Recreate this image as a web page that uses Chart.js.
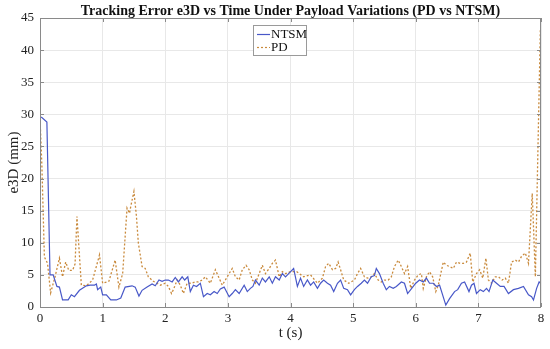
<!DOCTYPE html>
<html>
<head>
<meta charset="utf-8">
<script src="https://cdn.jsdelivr.net/npm/chart.js@4.4.0/dist/chart.umd.min.js"></script>
<style>
html,body{margin:0;padding:0;background:#fff;}
#wrap{width:550px;height:349px;position:relative;}
</style>
</head>
<body>
<div id="wrap"><canvas id="c" width="550" height="349"></canvas></div>
<script>
const titleText = 'Tracking Error e3D vs Time Under Payload Variations (PD vs NTSM)';
const xTitle = 't (s)';
const yTitle = 'e3D (mm)';
const seriesNames = ['NTSM', 'PD'];
const xTicks = [0,1,2,3,4,5,6,7,8];
const yTicks = [0,5,10,15,20,25,30,35,40,45];

const ntsmT = [0,0.03,0.11,0.16,0.21,0.27,0.31,0.36,0.45,0.50,0.55,0.63,0.74,0.80,0.87,0.90,0.92,0.97,1.00,1.06,1.13,1.22,1.29,1.36,1.47,1.52,1.58,1.63,1.71,1.79,1.84,1.90,1.95,2.00,2.05,2.11,2.16,2.21,2.27,2.31,2.36,2.40,2.45,2.50,2.56,2.61,2.67,2.72,2.78,2.83,2.88,2.94,3.02,3.07,3.12,3.18,3.26,3.31,3.36,3.40,3.44,3.50,3.55,3.60,3.66,3.71,3.76,3.82,3.87,3.92,3.99,4.05,4.11,4.16,4.21,4.27,4.32,4.37,4.43,4.48,4.53,4.59,4.64,4.69,4.75,4.80,4.85,4.91,4.96,5.02,5.07,5.13,5.18,5.23,5.29,5.34,5.37,5.42,5.48,5.53,5.58,5.64,5.69,5.77,5.82,5.87,5.92,6.00,6.06,6.12,6.17,6.22,6.28,6.33,6.38,6.48,6.54,6.62,6.67,6.73,6.78,6.85,6.89,6.93,6.97,7.03,7.08,7.13,7.17,7.23,7.29,7.35,7.41,7.48,7.56,7.64,7.72,7.80,7.85,7.88,7.93,7.97,8.00];
const ntsmE = [29.6,29.5,28.8,5.0,5.0,3.2,3.1,1.1,1.1,1.9,1.6,2.6,3.3,3.4,3.4,3.6,2.7,3.1,1.9,1.9,1.1,1.1,1.4,3.1,3.3,3.1,1.7,2.6,3.1,3.6,3.3,4.2,4.0,4.2,4.2,3.9,4.6,3.9,4.7,4.2,4.7,2.4,3.4,3.2,3.7,1.6,2.1,1.9,2.4,2.1,2.8,3.1,1.6,2.1,2.7,2.1,3.4,2.4,2.9,3.2,4.2,3.4,4.5,3.9,4.7,3.7,4.7,4.2,5.2,4.7,5.4,6.0,3.2,4.5,3.2,4.2,3.4,3.9,2.9,3.7,4.2,3.7,3.4,2.4,3.7,4.2,2.9,2.7,1.9,2.7,3.2,3.7,4.2,3.7,4.7,4.9,6.0,5.2,3.7,2.7,3.2,2.9,3.2,3.9,3.7,2.1,2.7,3.7,4.2,3.9,4.5,3.7,3.7,3.2,3.4,0.3,1.3,2.4,2.7,3.7,3.9,2.4,3.4,3.7,2.1,2.7,2.4,2.9,2.4,4.2,3.7,3.2,3.2,2.1,2.7,2.9,3.2,1.9,1.6,1.1,2.9,3.9,3.6];

const pdT = [0,0.03,0.07,0.12,0.17,0.24,0.31,0.36,0.41,0.46,0.52,0.56,0.59,0.66,0.74,0.84,0.95,1.00,1.10,1.20,1.26,1.32,1.39,1.43,1.45,1.50,1.54,1.57,1.63,1.68,1.73,1.81,1.92,2.00,2.05,2.10,2.13,2.19,2.24,2.29,2.35,2.42,2.48,2.53,2.59,2.64,2.72,2.80,2.86,2.91,2.96,3.02,3.07,3.12,3.18,3.23,3.29,3.34,3.39,3.44,3.50,3.55,3.60,3.66,3.71,3.76,3.82,3.87,3.92,4.00,4.10,4.21,4.32,4.43,4.51,4.56,4.61,4.67,4.72,4.76,4.80,4.85,4.93,5.02,5.07,5.12,5.18,5.23,5.29,5.34,5.40,5.45,5.50,5.56,5.61,5.66,5.72,5.77,5.82,5.87,5.92,5.98,6.04,6.09,6.12,6.17,6.22,6.27,6.32,6.36,6.44,6.49,6.54,6.60,6.65,6.71,6.76,6.81,6.87,6.91,6.97,7.02,7.07,7.12,7.16,7.21,7.27,7.32,7.38,7.43,7.48,7.53,7.59,7.64,7.69,7.75,7.80,7.86,7.91,7.99];
const pdE = [29.5,22.0,7.8,6.8,2.2,4.7,7.6,4.7,7.0,5.7,5.7,6.7,14.1,3.4,3.3,4.2,8.1,3.7,4.0,7.3,3.1,5.2,15.4,14.6,15.7,18.0,14.1,10.0,6.3,6.0,4.7,4.0,3.4,3.7,3.2,2.1,2.7,4.2,3.4,2.1,3.7,3.7,3.9,3.9,4.2,4.7,3.7,5.8,4.5,3.4,4.2,5.2,6.0,4.7,4.2,5.8,6.5,5.8,4.2,3.7,5.2,6.5,5.2,6.0,6.8,7.3,4.7,5.5,5.2,5.5,5.5,4.7,5.0,3.7,4.5,6.3,6.8,5.8,6.0,7.0,5.8,4.2,3.7,4.2,5.2,6.0,4.7,4.5,4.7,5.2,4.2,3.9,4.2,4.2,4.7,6.3,7.3,6.3,5.2,6.3,2.9,4.2,5.0,5.2,2.9,4.7,5.5,4.7,2.4,3.4,7.0,6.5,6.3,6.0,7.0,6.8,6.8,7.0,8.4,3.9,5.2,5.8,4.5,7.6,4.2,3.7,4.7,4.7,4.2,4.5,3.7,7.0,7.3,7.0,7.9,8.4,6.8,17.7,4.7,43.3];

const ntshColor = '#4858c8';
const pdColor = '#c98a3c';
const serif = '"Liberation Serif", "Times New Roman", serif';

const toXY = (ts, vs) => ts.map((t, i) => ({x: t, y: vs[i]}));

const boxPlugin = {
  id: 'boxPlugin',
  afterDatasetsDraw(chart) {
    const {ctx, chartArea: a} = chart;
    ctx.save();
    ctx.strokeStyle = '#8a8a8a';
    ctx.lineWidth = 1;
    ctx.strokeRect(a.left + 0.5, a.top + 0.5, a.right - a.left - 1, a.bottom - a.top);
    const xs = chart.scales.x, ys = chart.scales.y;
    ctx.beginPath();
    xTicks.forEach(v => {
      const px = Math.round(xs.getPixelForValue(v)) + 0.5;
      ctx.moveTo(px, a.bottom); ctx.lineTo(px, a.bottom - 4);
      ctx.moveTo(px, a.top); ctx.lineTo(px, a.top + 4);
    });
    yTicks.forEach(v => {
      const py = Math.round(ys.getPixelForValue(v)) + 0.5;
      ctx.moveTo(a.left, py); ctx.lineTo(a.left + 4, py);
      ctx.moveTo(a.right, py); ctx.lineTo(a.right - 4, py);
    });
    ctx.stroke();
    // legend
    const lx = 253, ly = 25, lw = 53, lh = 30;
    ctx.fillStyle = '#ffffff';
    ctx.fillRect(lx, ly, lw, lh);
    ctx.strokeStyle = '#9a9a9a';
    ctx.strokeRect(lx + 0.5, ly + 0.5, lw, lh);
    ctx.font = '13px ' + serif;
    ctx.textBaseline = 'middle';
    ctx.fillStyle = '#111';
    const rows = [[seriesNames[0], ntshColor, []], [seriesNames[1], pdColor, [2, 2]]];
    rows.forEach((r, i) => {
      const y = ly + 9 + i * 13;
      ctx.strokeStyle = r[1];
      ctx.lineWidth = 1.2;
      ctx.setLineDash(r[2]);
      ctx.beginPath();
      ctx.moveTo(lx + 4, y + 0.5); ctx.lineTo(lx + 17, y + 0.5);
      ctx.stroke();
      ctx.setLineDash([]);
      ctx.fillText(r[0], lx + 18, y + 1);
    });
    ctx.restore();
  }
};

new Chart(document.getElementById('c'), {
  type: 'line',
  data: {
    datasets: [
      {label: seriesNames[0], data: toXY(ntsmT, ntsmE), borderColor: ntshColor, borderWidth: 1.2, pointRadius: 0, tension: 0, fill: false},
      {label: seriesNames[1], data: toXY(pdT, pdE), borderColor: pdColor, borderWidth: 1.3, borderDash: [2, 2], pointRadius: 0, tension: 0, fill: false}
    ]
  },
  options: {
    responsive: false,
    animation: false,
    devicePixelRatio: 1,
    layout: {padding: {left: 0, right: 9, top: 0, bottom: 0}},
    plugins: {
      legend: {display: false},
      tooltip: {enabled: false},
      title: {
        display: true, text: titleText, fullSize: false, color: '#111',
        font: {family: serif, size: 14, weight: 'bold', lineHeight: 1.0},
        padding: {top: 4, bottom: 0}
      }
    },
    scales: {
      x: {
        type: 'linear', min: 0, max: 8,
        afterFit: s => { s.height = 42; },
        afterBuildTicks: s => { s.ticks = xTicks.map(v => ({value: v})); },
        ticks: {color: '#222', font: {family: serif, size: 13}, padding: 4, maxRotation: 0},
        grid: {color: '#e8e8e8', drawTicks: false, lineWidth: 1},
        border: {display: false},
        title: {display: true, text: xTitle, color: '#222', font: {family: serif, size: 15, lineHeight: 1.2}, padding: {top: 0, bottom: 7}}
      },
      y: {
        type: 'linear', min: 0, max: 45,
        afterFit: s => { s.width = 40; },
        afterBuildTicks: s => { s.ticks = yTicks.map(v => ({value: v})); },
        ticks: {color: '#222', font: {family: serif, size: 13}, padding: 6},
        grid: {color: '#e8e8e8', drawTicks: false, lineWidth: 1},
        border: {display: false},
        title: {display: true, text: yTitle, color: '#222', font: {family: serif, size: 15, lineHeight: 1.2}, padding: {top: 5, bottom: 0}}
      }
    }
  },
  plugins: [boxPlugin]
});
</script>
</body>
</html>
